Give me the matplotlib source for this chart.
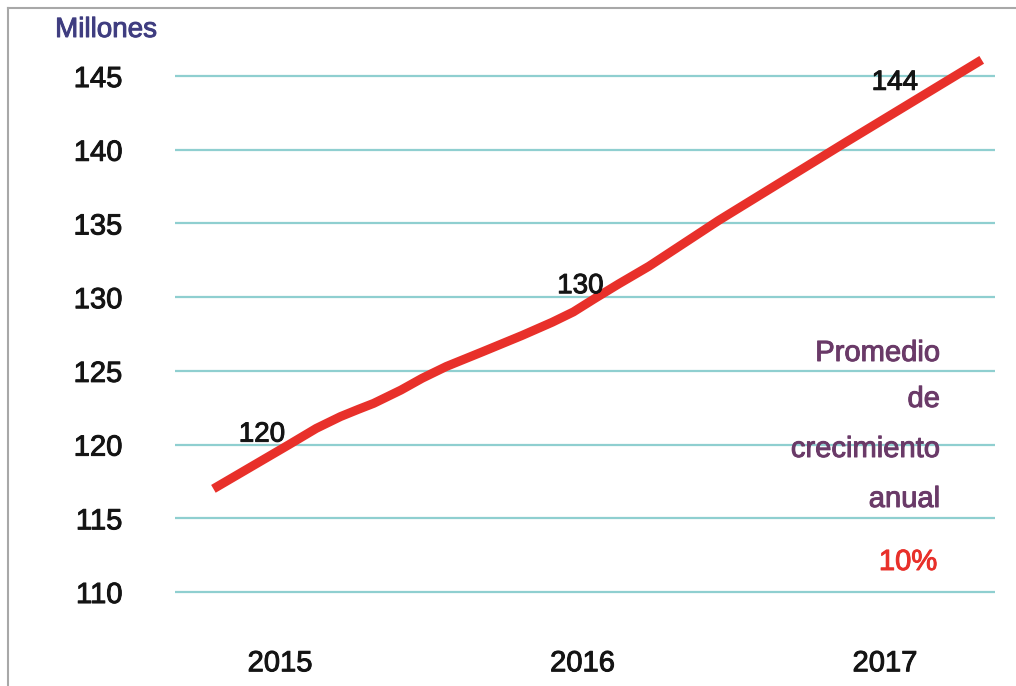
import numpy as np
import matplotlib
matplotlib.use("Agg")
import matplotlib.pyplot as plt
import matplotlib.patheffects as pe
from matplotlib.lines import Line2D

plt.rcParams['font.family'] = ['Liberation Sans', 'DejaVu Sans']

# curve (year, millions)
curve_years = [2014.78, 2015.03, 2015.12, 2015.20, 2015.26, 2015.31, 2015.35, 2015.40,
               2015.47, 2015.55, 2015.67, 2015.80, 2015.90, 2015.97, 2016.04,
               2016.12, 2016.22, 2016.45, 2016.87, 2017.32]
curve_values = [117.0, 120.0, 121.1, 121.9, 122.4, 122.8, 123.2, 123.7,
                124.5, 125.3, 126.3, 127.4, 128.3, 129.0, 129.9,
                130.9, 132.1, 135.2, 140.5, 146.1]

# labelled points
label_years = [2015, 2016, 2017]
label_values = [120, 130, 144]
label_offsets = [(-18, 10), (-2, 11), (10, 8)]   # pixels

y_ticks = [110, 115, 120, 125, 130, 135, 140, 145]
x_ticks = [2015, 2016, 2017]

note_lines = ["Promedio", "de", "crecimiento", "anual"]
note_value = "10%"

fig = plt.figure(figsize=(10.16, 6.86), dpi=100)
W, H = 1016, 686


def thick(color):
    # scanned text in the original looks a bit heavier
    return [pe.withStroke(linewidth=0.7, foreground=color)]


# axes placed so gridlines run from px 175 to 995
ax = fig.add_axes([175 / W, 0.094, 820 / W, 0.8596])
ax.set_xlim(2014.653, 2017.364)
ax.set_ylim(108, 148)

for v in y_ticks:
    ax.axhline(v, color='#8fcfd0', lw=1.6, zorder=1)

ax.plot(curve_years, curve_values, color='#e8302a', lw=6.5,
        solid_capstyle='butt', solid_joinstyle='round', zorder=3, clip_on=False)

for yr, val, off in zip(label_years, label_values, label_offsets):
    ax.annotate(str(val), (yr, val), xytext=off, textcoords='offset pixels',
                ha='center', va='center', fontsize=20, color='#141414', zorder=4,
                path_effects=thick('#141414'))

ax.set_yticks(y_ticks)
ax.set_xticks(x_ticks)
ax.set_xticklabels([str(x) for x in x_ticks])
ax.tick_params(axis='y', length=0, pad=38, labelsize=21, labelcolor='#141414')
ax.tick_params(axis='x', length=0, pad=20, labelsize=21, labelcolor='#141414')
for lbl in ax.get_xticklabels() + ax.get_yticklabels():
    lbl.set_path_effects(thick('#141414'))
for s in ax.spines.values():
    s.set_visible(False)

fig.text(106 / W, 1 - 30 / H, "Millones", ha='center', va='center',
         fontsize=20, color='#3f3d80', path_effects=thick('#3f3d80'))

note_y = [353, 399, 449, 499]
for txt, py in zip(note_lines, note_y):
    fig.text(940 / W, 1 - py / H, txt, ha='right', va='center',
             fontsize=21, color='#6a3a68', path_effects=thick('#6a3a68'))
fig.text(937 / W, 1 - 562 / H, note_value, ha='right', va='center',
         fontsize=21, color='#e8302a', path_effects=thick('#e8302a'))

# frame of the picture (top and left edges visible)
fig.add_artist(Line2D([8 / W, 1], [1 - 8 / H, 1 - 8 / H], color='#a8a8a8', lw=1.5,
                      transform=fig.transFigure))
fig.add_artist(Line2D([8 / W, 8 / W], [1 - 8 / H, 0], color='#a8a8a8', lw=1.5,
                      transform=fig.transFigure))

fig.savefig("out.png", dpi=100)
